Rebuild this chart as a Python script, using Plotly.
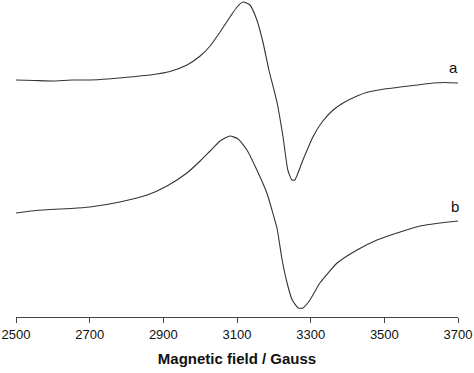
import plotly.graph_objects as go

# Spectrum a (field in Gauss, intensity in arbitrary units)
field_a = [2500, 2550, 2600, 2650, 2700, 2750, 2810, 2864, 2918, 2964, 3000, 3027, 3054, 3081, 3100,
           3116, 3135, 3154, 3171, 3186, 3209, 3225, 3238, 3249, 3257, 3279, 3306, 3331, 3361, 3388,
           3426, 3456, 3500, 3543, 3590, 3632, 3665, 3700]
int_a = [237, 236.5, 236, 237, 237, 238, 240, 242, 245.5, 252, 261, 271, 285, 300, 310,
         315, 312, 297, 274, 248, 214, 180, 147, 137, 137, 157, 180, 195, 207, 214,
         221, 225, 228, 230, 232, 234, 234.5, 234]

# Spectrum b
field_b = [2500, 2540, 2592, 2650, 2701, 2782, 2856, 2910, 2964, 3000, 3027, 3054, 3081, 3103, 3127,
           3154, 3181, 3209, 3222, 3236, 3250, 3266, 3279, 3298, 3325, 3372, 3426, 3480, 3543, 3597,
           3651, 3700]
int_b = [104, 106, 107.5, 108.5, 110, 115, 122, 131, 144, 156, 166, 176, 181, 178, 167,
         147, 124, 88, 58, 34, 17, 9, 9, 17, 34, 54, 67, 77, 85, 91,
         94, 96]

labels = ["a", "b"]
label_x = [3687, 3692]
label_y = [250, 111]

tick_vals = [2500, 2700, 2900, 3100, 3300, 3500, 3700]
x_title = "Magnetic field / Gauss"

line_color = "#333333"

fig = go.Figure()
fig.add_trace(go.Scatter(x=field_a, y=int_a, mode="lines",
                         line=dict(color=line_color, width=1.1, shape="spline", smoothing=0.5),
                         showlegend=False))
fig.add_trace(go.Scatter(x=field_b, y=int_b, mode="lines",
                         line=dict(color=line_color, width=1.1, shape="spline", smoothing=0.5),
                         showlegend=False))

for t, xv, yv in zip(labels, label_x, label_y):
    fig.add_annotation(x=xv, y=yv, text=t, showarrow=False,
                       font=dict(family="Liberation Sans, Arial", size=15, color="#111111"))

fig.update_layout(
    width=474, height=373,
    margin=dict(l=16, r=16, t=0, b=56),
    paper_bgcolor="white", plot_bgcolor="white",
    xaxis=dict(range=[2500, 3700], tickvals=tick_vals, ticktext=[str(v) for v in tick_vals],
               showline=True, linecolor="#444444", linewidth=1,
               ticks="outside", ticklen=5, tickcolor="#444444", tickwidth=1,
               showgrid=False, zeroline=False,
               tickfont=dict(family="Liberation Sans, Arial", size=13, color="#111111"),
               title=dict(text="<b>" + x_title + "</b>", standoff=12,
                          font=dict(family="Liberation Sans, Arial", size=15, color="#111111"))),
    yaxis=dict(range=[0, 317], visible=False, showgrid=False, zeroline=False),
)

fig.write_html("out.html", config={"displayModeBar": False},
               post_script="document.body.style.margin='0px';document.body.style.overflow='hidden';")
